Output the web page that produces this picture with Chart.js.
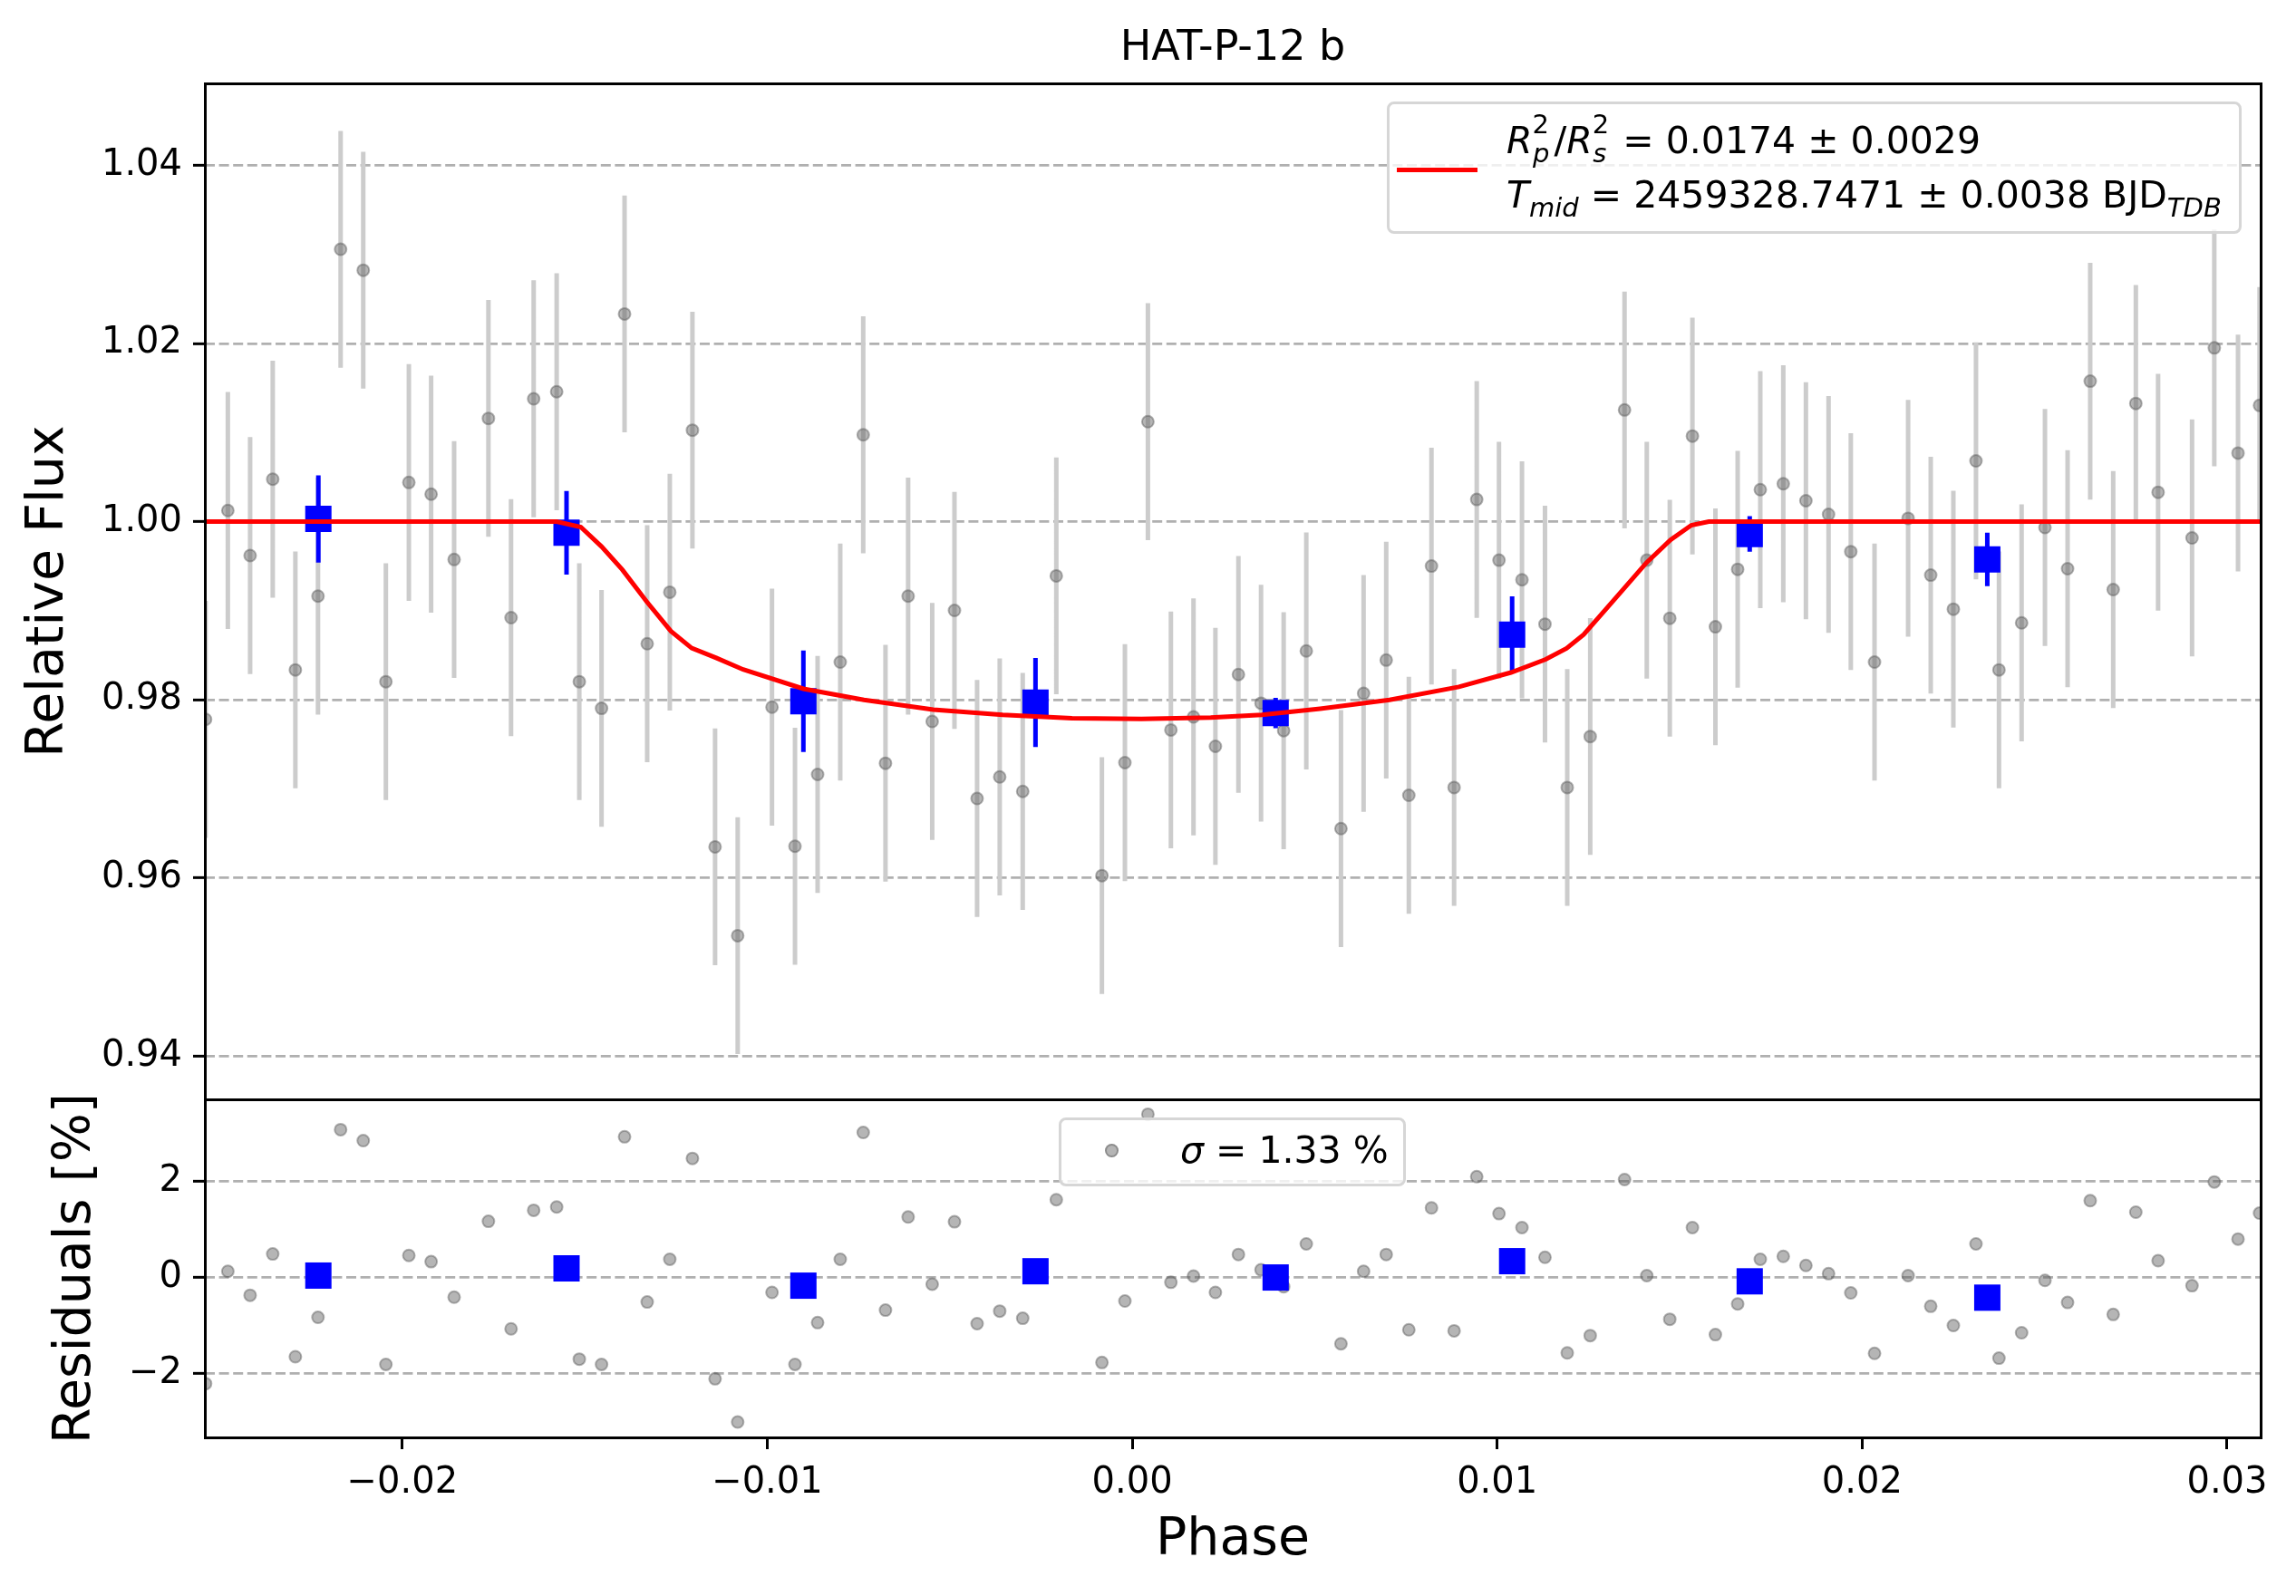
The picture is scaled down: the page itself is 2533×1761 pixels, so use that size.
<!DOCTYPE html>
<html>
<head>
<meta charset="utf-8">
<title>HAT-P-12 b</title>
<script src="https://cdn.jsdelivr.net/npm/chart.js@4.4.1/dist/chart.umd.min.js"></script>
<style>
  html, body { margin: 0; padding: 0; background: #fff; }
  #wrap { position: relative; width: 2533px; height: 1761px; overflow: hidden; font-family: 'DejaVu Sans', sans-serif; }
  canvas { position: absolute; left: 0; }
  #mainCanvas { top: 0; }
  #residCanvas { top: 1193px; }
  .legend { position: absolute; box-sizing: border-box; background: rgba(255,255,255,0.8); border: 3px solid #d6d6d6; border-radius: 8px; color: #000; font-size: 41px; white-space: nowrap; }
  .legend .row { position: absolute; line-height: 41px; height: 41px; }
  .sup, .sub { font-size: 29px; position: relative; line-height: 0; }
  .sup { top: -22px; }
  .sub { top: 10px; }
  .back { margin-left: -18px; margin-right: 5px; }
  .dot { position: absolute; box-sizing: border-box; width: 15px; height: 15px; border-radius: 50%; background: rgba(90,90,90,0.45); border: 2px solid rgba(90,90,90,0.45); }
  .redline { position: absolute; height: 5px; background: #ff0000; }
</style>
</head>
<body>
<div id="wrap">
  <canvas id="mainCanvas" width="2533" height="1230"></canvas>
  <canvas id="residCanvas" width="2533" height="568"></canvas>

  <div class="legend" style="left:1530px; top:112px; width:943px; height:146px;">
    <div class="redline" style="left:8px; top:70px; width:89px;"></div>
    <div class="row" style="left:129px; top:20px;"><i>R</i><span class="sup">2</span><span class="sub back"><i>p</i></span>/<i>R</i><span class="sup">2</span><span class="sub back"><i>s</i></span> = 0.0174 ± 0.0029</div>
    <div class="row" style="left:129px; top:80px;"><i>T</i><span class="sub"><i>mid</i></span> = 2459328.7471 ± 0.0038 BJD<span class="sub"><i>TDB</i></span></div>
  </div>

  <div class="legend" style="left:1168px; top:1233px; width:383px; height:76px;">
    <div class="dot" style="left:48px; top:26px;"></div>
    <div class="row" style="left:131px; top:13px;"><i>σ</i> = 1.33 %</div>
  </div>
</div>

<script>
// Phase-folded light curve
const phase = [-0.02539, -0.02478, -0.02417, -0.02355, -0.02293, -0.02231, -0.02169, -0.02107, -0.02045, -0.01982, -0.01921, -0.01858,
  -0.01764, -0.01702, -0.01640, -0.01577, -0.01515, -0.01454, -0.01391, -0.01329, -0.01267, -0.01205, -0.01143, -0.01081,
  -0.00987, -0.00924, -0.00862, -0.00800, -0.00737, -0.00676, -0.00614, -0.00548, -0.00487, -0.00425, -0.00363, -0.00300,
  -0.00208, -0.00083, -0.00020, 0.00043, 0.00106, 0.00168, 0.00228, 0.00291, 0.00353,
  0.00415, 0.00477, 0.00572, 0.00634, 0.00696, 0.00758, 0.00820, 0.00882, 0.00944, 0.01005, 0.01068, 0.01131,
  0.01192, 0.01255, 0.01349, 0.01410, 0.01473, 0.01535, 0.01598, 0.01659, 0.01721, 0.01784,
  0.01846, 0.01908, 0.01969, 0.02034, 0.02126, 0.02188, 0.02250, 0.02312, 0.02375, 0.02437,
  0.02501, 0.02563, 0.02625, 0.02688, 0.02750, 0.02811, 0.02904, 0.02965, 0.03030, 0.03089];

const flux = [0.9778, 1.00125, 0.99619, 1.00477, 0.98335, 0.99164, 1.03058, 1.02823, 0.98203, 1.0044, 1.00308, 0.99575,
  1.01159, 0.98922, 1.01379, 1.01459, 0.98203, 0.97903, 1.02332, 0.98629, 0.99208, 1.01027, 0.96348, 0.95351,
  0.97917, 0.96355, 0.97162, 0.98423, 1.00975, 0.97287, 0.99164, 0.97756, 0.99003, 0.96891, 0.97133, 0.96971,
  0.99391, 0.96025, 0.97294, 1.01122, 0.97661, 0.97807, 0.97477, 0.98284, 0.97961,
  0.97653, 0.98548, 0.96553, 0.98071, 0.98445, 0.96927, 0.99501, 0.97015, 1.00249, 0.99567, 0.99347, 0.98849,
  0.97015, 0.97587, 1.01254, 0.99567, 0.98915, 1.00961, 0.98819, 0.99465, 1.00359, 1.00425,
  1.00235, 1.00081, 0.99663, 0.98423, 1.00037, 0.99399, 0.99017, 1.00682, 0.98335, 0.98863,
  0.99934, 0.99472, 1.01577, 0.99237, 1.01327, 1.0033, 0.99817, 1.01951, 1.0077, 1.01305];

const fluxErr = 0.0133; // every grey error bar has the same half-length

const residual = [-2.21, 0.13, -0.37, 0.49, -1.65, -0.83, 3.08, 2.85, -1.81, 0.46, 0.33, -0.41,
  1.17, -1.07, 1.40, 1.47, -1.70, -1.81, 2.93, -0.51, 0.38, 2.48, -2.11, -3.01,
  -0.31, -1.81, -0.94, 0.38, 3.02, -0.68, 1.26, -0.14, 1.16, -0.96, -0.70, -0.85,
  1.62, -1.77, -0.49, 3.40, -0.10, 0.03, -0.31, 0.48, 0.16,
  -0.19, 0.70, -1.38, 0.13, 0.48, -1.09, 1.45, -1.11, 2.10, 1.33, 1.04, 0.42,
  -1.57, -1.21, 2.04, 0.04, -0.87, 1.04, -1.19, -0.55, 0.38, 0.44,
  0.25, 0.08, -0.32, -1.58, 0.04, -0.60, -1.00, 0.70, -1.68, -1.15,
  -0.06, -0.52, 1.60, -0.77, 1.36, 0.35, -0.17, 1.99, 0.80, 1.34];

// Binned points (blue squares)
const binPhase = [-0.02230, -0.01550, -0.00901, -0.00265, 0.00393, 0.01041, 0.01692, 0.02343];
const binFlux = [1.0003, 0.99875, 0.97983, 0.97969, 0.97851, 0.98731, 0.99861, 0.99575];
const binErr = [0.0049, 0.0047, 0.0057, 0.0050, 0.0017, 0.0043, 0.0020, 0.0030];
const binResid = [0.04, 0.19, -0.17, 0.13, 0.00, 0.34, -0.08, -0.42];

// Transit model (red curve), sampled off the figure
const modelPhase = [-0.02541, -0.01577, -0.01511, -0.01454, -0.01397, -0.01330, -0.01264, -0.01207, -0.01140, -0.01066,
  -0.00901, -0.00735, -0.00545, -0.00355, -0.00165, 0.00025, 0.00215, 0.00355, 0.00515, 0.00705,
  0.00895, 0.01038, 0.01133, 0.01190, 0.01237, 0.01323, 0.01409, 0.01475, 0.01532, 0.01580, 0.03092];
const modelFlux = [1.0, 1.0, 0.9994, 0.9972, 0.9946, 0.9910, 0.9877, 0.9858, 0.9847, 0.9834,
  0.98123, 0.97998, 0.97888, 0.9783, 0.97793, 0.97785, 0.978, 0.9783, 0.9790, 0.97998,
  0.98145, 0.98306, 0.98453, 0.98577, 0.98731, 0.99135, 0.99538, 0.99795, 0.9996, 1.0, 1.0];

// Axes
const xMin = -0.02541, xMax = 0.03092;
const xTicks = [-0.02, -0.01, 0.00, 0.01, 0.02, 0.03];
const xTickLabels = ['\u22120.02', '\u22120.01', '0.00', '0.01', '0.02', '0.03'];
const fluxMin = 0.93513, fluxMax = 1.04919;
const fluxTicks = [0.94, 0.96, 0.98, 1.00, 1.02, 1.04];
const fluxTickLabels = ['0.94', '0.96', '0.98', '1.00', '1.02', '1.04'];
const residMin = -3.33, residMax = 3.71;
const residTicks = [-2, 0, 2];
const residTickLabels = ['\u22122', '0', '2'];

Chart.defaults.font.family = 'DejaVu Sans';
Chart.defaults.color = '#000';

const GRAY_PT = 'rgba(90,90,90,0.45)';
const GRAY_BAR = '#cccccc';
const GRID = '#b0b0b0';
const AXIS_W = 226;
const TICK_FONT = 40;

// black box around each plot area (snapped to the pixel grid)
const framePlugin = {
  id: 'frame',
  afterDatasetsDraw(chart) {
    const { ctx, chartArea: a } = chart;
    const l = Math.round(a.left), t = Math.round(a.top);
    const r = Math.round(a.right), b = Math.round(a.bottom);
    ctx.save();
    ctx.strokeStyle = '#000';
    ctx.lineWidth = 3;
    ctx.strokeRect(l + 0.5, t + 0.5, r - l, b - t);
    ctx.restore();
  }
};

function points(xs, ys) {
  return xs.map((x, i) => ({ x: x, y: ys[i] }));
}

// vertical bars as one line dataset broken by null gaps
function errorSegments(xs, ys, errs) {
  const out = [];
  xs.forEach((x, i) => {
    const e = Array.isArray(errs) ? errs[i] : errs;
    out.push({ x: x, y: ys[i] - e }, { x: x, y: ys[i] + e }, { x: x, y: null });
  });
  return out;
}

function yAxis(min, max, ticks, labels, title, titlePad) {
  return {
    type: 'linear',
    min: min,
    max: max,
    afterFit: s => {
      s.width = AXIS_W;
      s.paddingTop = 0;
      s.paddingBottom = 0;
    },
    afterBuildTicks: s => { s.ticks = ticks.map(v => ({ value: v })); },
    ticks: {
      callback: (v, i) => labels[i],
      font: { size: TICK_FONT },
      color: '#000',
      padding: 12
    },
    grid: {
      color: GRID,
      lineWidth: 2.7,
      tickColor: '#000',
      tickLength: 13,
      tickWidth: 3,
      tickBorderDash: []
    },
    border: { display: false, dash: [11, 4.6] },
    title: {
      display: true,
      text: title,
      font: { size: 57 },
      color: '#000',
      padding: { top: titlePad, bottom: 0 }
    }
  };
}

const commonOpts = {
  responsive: false,
  animation: false,
  devicePixelRatio: 1,
  events: []
};

new Chart(document.getElementById('mainCanvas'), {
  type: 'scatter',
  data: {
    datasets: [
      {
        data: errorSegments(phase, flux, fluxErr),
        showLine: true,
        spanGaps: false,
        borderColor: GRAY_BAR,
        borderWidth: 5,
        pointRadius: 0,
        order: 4
      },
      {
        data: points(phase, flux),
        backgroundColor: GRAY_PT,
        borderColor: GRAY_PT,
        borderWidth: 2,
        pointRadius: 6.5,
        order: 3
      },
      {
        data: errorSegments(binPhase, binFlux, binErr),
        showLine: true,
        spanGaps: false,
        borderColor: '#0000ff',
        borderWidth: 5,
        pointRadius: 0,
        order: 2
      },
      {
        data: points(binPhase, binFlux),
        pointStyle: 'rect',
        pointRadius: 20.5,
        backgroundColor: '#0000ff',
        borderWidth: 0,
        order: 1
      },
      {
        data: points(modelPhase, modelFlux),
        showLine: true,
        tension: 0,
        borderColor: '#ff0000',
        borderWidth: 5,
        pointRadius: 0,
        order: 0
      }
    ]
  },
  options: Object.assign({}, commonOpts, {
    layout: { autoPadding: false, padding: { top: 0, right: 39, bottom: 17, left: 0 } },
    plugins: {
      legend: { display: false },
      tooltip: { enabled: false },
      title: {
        display: true,
        text: 'HAT-P-12 b',
        fullSize: false,
        color: '#000',
        font: { size: 46, weight: 'normal' },
        padding: { top: 26, bottom: 11 }
      }
    },
    scales: {
      x: { type: 'linear', min: xMin, max: xMax, display: false },
      y: yAxis(fluxMin, fluxMax, fluxTicks, fluxTickLabels, 'Relative Flux', 20)
    }
  }),
  plugins: [framePlugin]
});

new Chart(document.getElementById('residCanvas'), {
  type: 'scatter',
  data: {
    datasets: [
      {
        data: points(phase, residual),
        backgroundColor: GRAY_PT,
        borderColor: GRAY_PT,
        borderWidth: 2,
        pointRadius: 6.5,
        order: 2
      },
      {
        data: points(binPhase, binResid),
        pointStyle: 'rect',
        pointRadius: 20.5,
        backgroundColor: '#0000ff',
        borderWidth: 0,
        order: 1
      }
    ]
  },
  options: Object.assign({}, commonOpts, {
    layout: { autoPadding: false, padding: { top: 20, right: 39, bottom: 0, left: 0 } },
    plugins: {
      legend: { display: false },
      tooltip: { enabled: false }
    },
    scales: {
      x: {
        type: 'linear',
        min: xMin,
        max: xMax,
        afterFit: s => {
          s.height = 175;
          s.paddingLeft = 0;
          s.paddingRight = 0;
        },
        afterBuildTicks: s => { s.ticks = xTicks.map(v => ({ value: v })); },
        ticks: {
          callback: (v, i) => xTickLabels[i],
          font: { size: TICK_FONT },
          color: '#000',
          padding: 14,
          maxRotation: 0,
          autoSkip: false
        },
        grid: {
          drawOnChartArea: false,
          tickColor: '#000',
          tickLength: 13,
          tickWidth: 3
        },
        border: { display: false },
        title: {
          display: true,
          text: 'Phase',
          font: { size: 57 },
          color: '#000',
          padding: { top: 0, bottom: 27 }
        }
      },
      y: yAxis(residMin, residMax, residTicks, residTickLabels, 'Residuals [%]', 50)
    }
  }),
  plugins: [framePlugin]
});
</script>
</body>
</html>
